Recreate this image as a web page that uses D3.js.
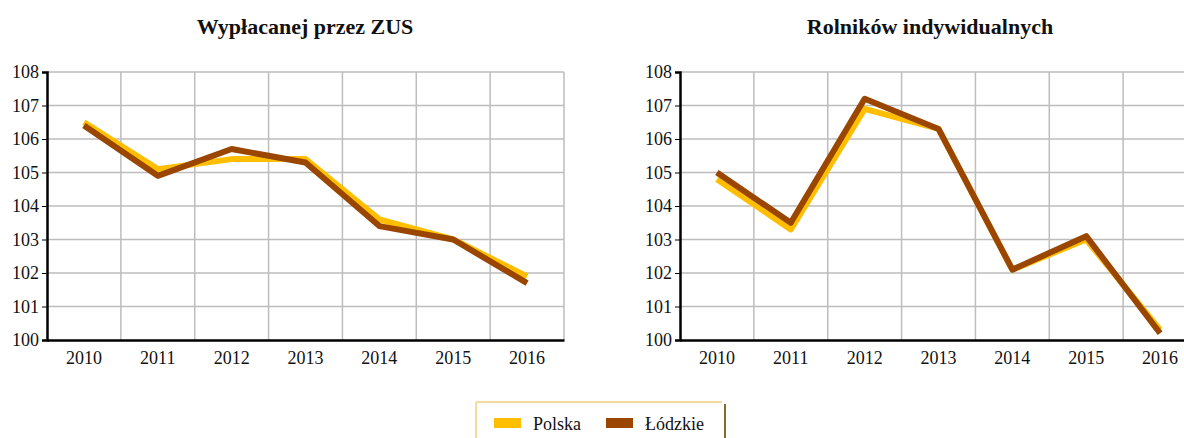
<!DOCTYPE html>
<meta charset="utf-8">
<style>
body { margin: 0; background: #fff; }
text { font-family: "Liberation Serif", "Times New Roman", serif; fill: #111; }
.grid line { stroke: #bdbdbd; stroke-width: 1.5px; }
.axis path, .axis line { stroke: #000; }
</style>
<svg width="1184" height="438"></svg>
<script src="https://cdn.jsdelivr.net/npm/d3@7"></script>
<script>

var years = ["2010", "2011", "2012", "2013", "2014", "2015", "2016"];
var yTicks = [100, 101, 102, 103, 104, 105, 106, 107, 108];

var zusPolska   = [106.5, 105.1, 105.4, 105.4, 103.6, 103.0, 101.9];
var zusLodzkie  = [106.4, 104.9, 105.7, 105.3, 103.4, 103.0, 101.7];
var rolPolska   = [104.8, 103.3, 106.9, 106.3, 102.1, 103.0, 100.3];
var rolLodzkie  = [105.0, 103.5, 107.2, 106.3, 102.1, 103.1, 100.2];

var seriesNames = ["Polska", "Łódzkie"];
var colors = ["#ffbf00", "#9a4600"];

var svg = d3.select("svg");

var panels = [
  { title: "Wypłacanej przez ZUS", left: 47, titleX: 305, data: [zusPolska, zusLodzkie] },
  { title: "Rolników indywidualnych", left: 680, titleX: 930, data: [rolPolska, rolLodzkie] }
];

var plotW = 517, plotTop = 72, plotBottom = 340;

panels.forEach(function(p) {
  var g = svg.append("g");

  var x = d3.scaleBand().domain(years).range([p.left, p.left + plotW]);
  var y = d3.scaleLinear().domain([100, 108]).range([plotBottom, plotTop]);

  g.append("text")
      .attr("x", p.titleX)
      .attr("y", 34)
      .attr("text-anchor", "middle")
      .style("font-size", "22px")
      .style("font-weight", "bold")
      .text(p.title);

  // grid
  var grid = g.append("g").attr("class", "grid");
  grid.selectAll(".h")
    .data(yTicks.slice(1))
    .enter().append("line")
      .attr("x1", p.left).attr("x2", p.left + plotW)
      .attr("y1", d => y(d)).attr("y2", d => y(d));
  grid.selectAll(".v")
    .data(years)
    .enter().append("line")
      .attr("x1", d => x(d) + x.bandwidth()).attr("x2", d => x(d) + x.bandwidth())
      .attr("y1", plotTop).attr("y2", plotBottom);

  // y axis
  var ya = g.append("g")
      .attr("class", "axis")
      .attr("transform", "translate(" + p.left + ",0)")
      .call(d3.axisLeft(y).tickValues(yTicks).tickSize(5).tickPadding(3).tickFormat(d3.format("d")));
  ya.select(".domain").attr("stroke-width", 2.5);
  ya.selectAll("text").style("font-size", "18px").attr("fill", "#111");

  // x axis
  var xa = g.append("g")
      .attr("class", "axis")
      .attr("transform", "translate(0," + plotBottom + ")")
      .call(d3.axisBottom(x).tickSize(0).tickPadding(11));
  xa.select(".domain").attr("stroke-width", 2.5);
  xa.selectAll("text").style("font-size", "18px").attr("fill", "#111");

  var line = d3.line()
      .x((d, i) => x(years[i]) + x.bandwidth() / 2)
      .y(d => y(d));

  p.data.forEach(function(vals, k) {
    g.append("path")
        .datum(vals)
        .attr("fill", "none")
        .attr("stroke", colors[k])
        .attr("stroke-width", 6)
        .attr("stroke-linejoin", "round")
        .attr("d", line);
  });
});

// legend
var lg = svg.append("g");
lg.append("line").attr("x1", 476).attr("x2", 722).attr("y1", 402).attr("y2", 402)
    .attr("stroke", "#f3dc9c").attr("stroke-width", 2);
lg.append("line").attr("x1", 476).attr("x2", 476).attr("y1", 402).attr("y2", 438)
    .attr("stroke", "#f3dc9c").attr("stroke-width", 2);
lg.append("line").attr("x1", 725).attr("x2", 725).attr("y1", 404).attr("y2", 438)
    .attr("stroke", "#8a6a2a").attr("stroke-width", 2);

var legendX = [494, 606];
seriesNames.forEach(function(name, i) {
  lg.append("rect")
      .attr("x", legendX[i]).attr("y", 418)
      .attr("width", 27).attr("height", 10)
      .attr("fill", colors[i]);
  lg.append("text")
      .attr("x", legendX[i] + 39).attr("y", 430)
      .style("font-size", "18px")
      .attr("fill", "#333")
      .text(name);
});

</script>
